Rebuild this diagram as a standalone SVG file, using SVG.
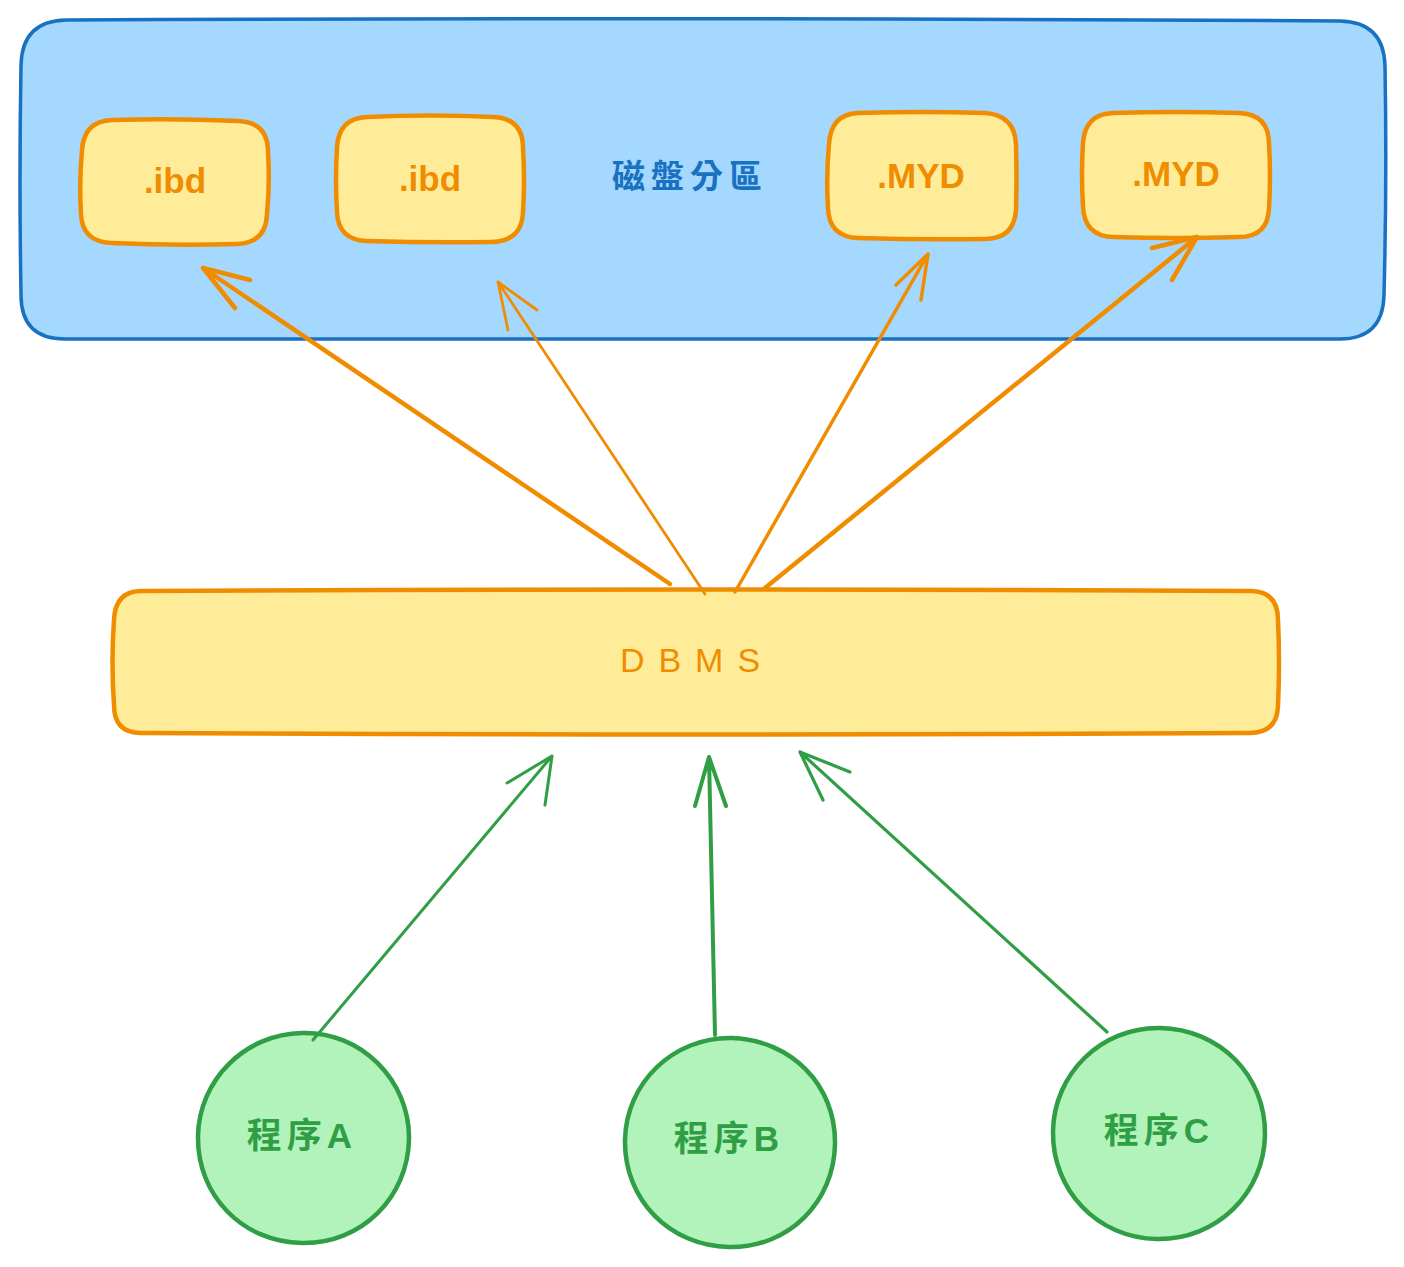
<svg xmlns="http://www.w3.org/2000/svg" width="1404" height="1267" viewBox="0 0 1404 1267">
  <style>
    .frame { fill: #a5d8ff; stroke: #1971c2; stroke-width: 3.5; }
    .file { fill: #ffec99; stroke: #f08c00; stroke-width: 4.5; }
    .prog { fill: #b2f2bb; stroke: #2f9e44; stroke-width: 4.5; }
    .t { font-family: "Liberation Sans", "Noto Sans CJK TC", sans-serif; text-anchor: middle; dominant-baseline: central; }
    .t-file { fill: #f08c00; font-size: 35px; font-weight: bold; }
    .t-disk { fill: #1971c2; font-size: 33px; font-weight: bold; letter-spacing: 6px; }
    .t-prog { fill: #2f9e44; font-size: 35px; font-weight: bold; letter-spacing: 5px; }
    .arr-o { fill: none; stroke: #f08c00; stroke-linecap: round; stroke-linejoin: round; }
    .arr-g { fill: none; stroke: #2f9e44; stroke-linecap: round; stroke-linejoin: round; }
  </style>

  <!-- disk partition container -->
  <g id="disk">
    <path class="frame" d="M66 20 Q700 17 1340 21 Q1384 22 1385 66 Q1387 180 1384 295 Q1383 339 1340 339 Q700 341 65 339 Q21 339 21 295 Q19 180 21 65 Q22 21 66 20 Z"/>
    <text class="t t-disk" x="690" y="176">磁盤分區</text>
  </g>

  <g id="ibd1">
    <path class="file" d="M112 120 Q175 118 238 121 Q268 122 268 152 Q270 182 267 214 Q266 243 237 244 Q175 246 112 243 Q82 242 81 214 Q79 182 82 150 Q84 121 112 120 Z"/>
    <text class="t t-file" x="175" y="180">.ibd</text>
  </g>

  <g id="ibd2">
    <path class="file" d="M367 117 Q430 114 493 117 Q523 118 523 148 Q525 180 523 212 Q522 241 492 242 Q430 243 367 241 Q338 240 337 212 Q335 180 337 147 Q339 118 367 117 Z"/>
    <text class="t t-file" x="430" y="178">.ibd</text>
  </g>

  <g id="myd1">
    <path class="file" d="M858 113 Q921 111 985 113 Q1015 115 1016 145 Q1017 178 1016 210 Q1014 239 985 239 Q921 240 858 238 Q829 237 828 208 Q826 176 829 144 Q831 114 858 113 Z"/>
    <text class="t t-file" x="921" y="175">.MYD</text>
  </g>

  <g id="myd2">
    <path class="file" d="M1113 113 Q1176 111 1239 113 Q1269 114 1269 144 Q1271 176 1269 208 Q1268 237 1239 237 Q1176 239 1113 237 Q1084 236 1083 206 Q1081 174 1083 143 Q1085 114 1113 113 Z"/>
    <text class="t t-file" x="1176" y="173">.MYD</text>
  </g>

  <g id="dbms">
    <path class="file" d="M140 591 Q700 588 1252 591 Q1278 592 1278 620 Q1280 662 1278 706 Q1277 733 1250 733 Q700 736 141 733 Q114 733 114 705 Q111 662 114 620 Q115 592 140 591 Z"/>
    <text class="t t-file" x="697" y="660" style="font-weight:normal; font-size:34px; letter-spacing:14px">DBMS</text>
  </g>

  <g id="progA">
    <path class="prog" d="M302 1033 C360 1031 410 1080 409 1139 C408 1197 362 1244 302 1243 C242 1242 197 1195 198 1136 C199 1080 245 1034 302 1033 Z"/>
    <text class="t t-prog" x="302" y="1135">程序A</text>
  </g>

  <g id="progB">
    <path class="prog" d="M732 1038 C791 1040 836 1085 835 1144 C834 1202 789 1248 729 1247 C670 1246 624 1200 625 1140 C626 1083 673 1037 732 1038 Z"/>
    <text class="t t-prog" x="729" y="1138">程序B</text>
  </g>

  <g id="progC">
    <path class="prog" d="M1160 1028 C1220 1029 1266 1076 1265 1135 C1264 1193 1217 1240 1157 1239 C1097 1238 1052 1190 1053 1131 C1054 1074 1101 1027 1160 1028 Z"/>
    <text class="t t-prog" x="1159" y="1130">程序C</text>
  </g>

  <!-- connectors -->
  <g id="connectors">
    <!-- DBMS to files -->
    <path class="arr-o" stroke-width="4.5" d="M670 584 L203 268 M203 268 L250 280 M203 268 L235 308"/>
    <path class="arr-o" stroke-width="2.8" d="M705 594 L498 282 M498 282 L537 310 M498 282 L508 330"/>
    <path class="arr-o" stroke-width="3.5" d="M735 592 L928 254 M928 254 L896 285 M928 254 L921 300"/>
    <path class="arr-o" stroke-width="4.5" d="M765 588 L1197 237 M1197 237 L1152 248 M1197 237 L1172 280"/>
    <!-- programs to DBMS -->
    <path class="arr-g" stroke-width="3" d="M313 1040 L552 756 M552 756 L507 783 M552 756 L545 805"/>
    <path class="arr-g" stroke-width="4" d="M715 1035 L709 757 M709 757 L695 806 M709 757 L726 806"/>
    <path class="arr-g" stroke-width="3.2" d="M1107 1032 L800 752 M800 752 L850 772 M800 752 L823 800"/>
  </g>
</svg>
